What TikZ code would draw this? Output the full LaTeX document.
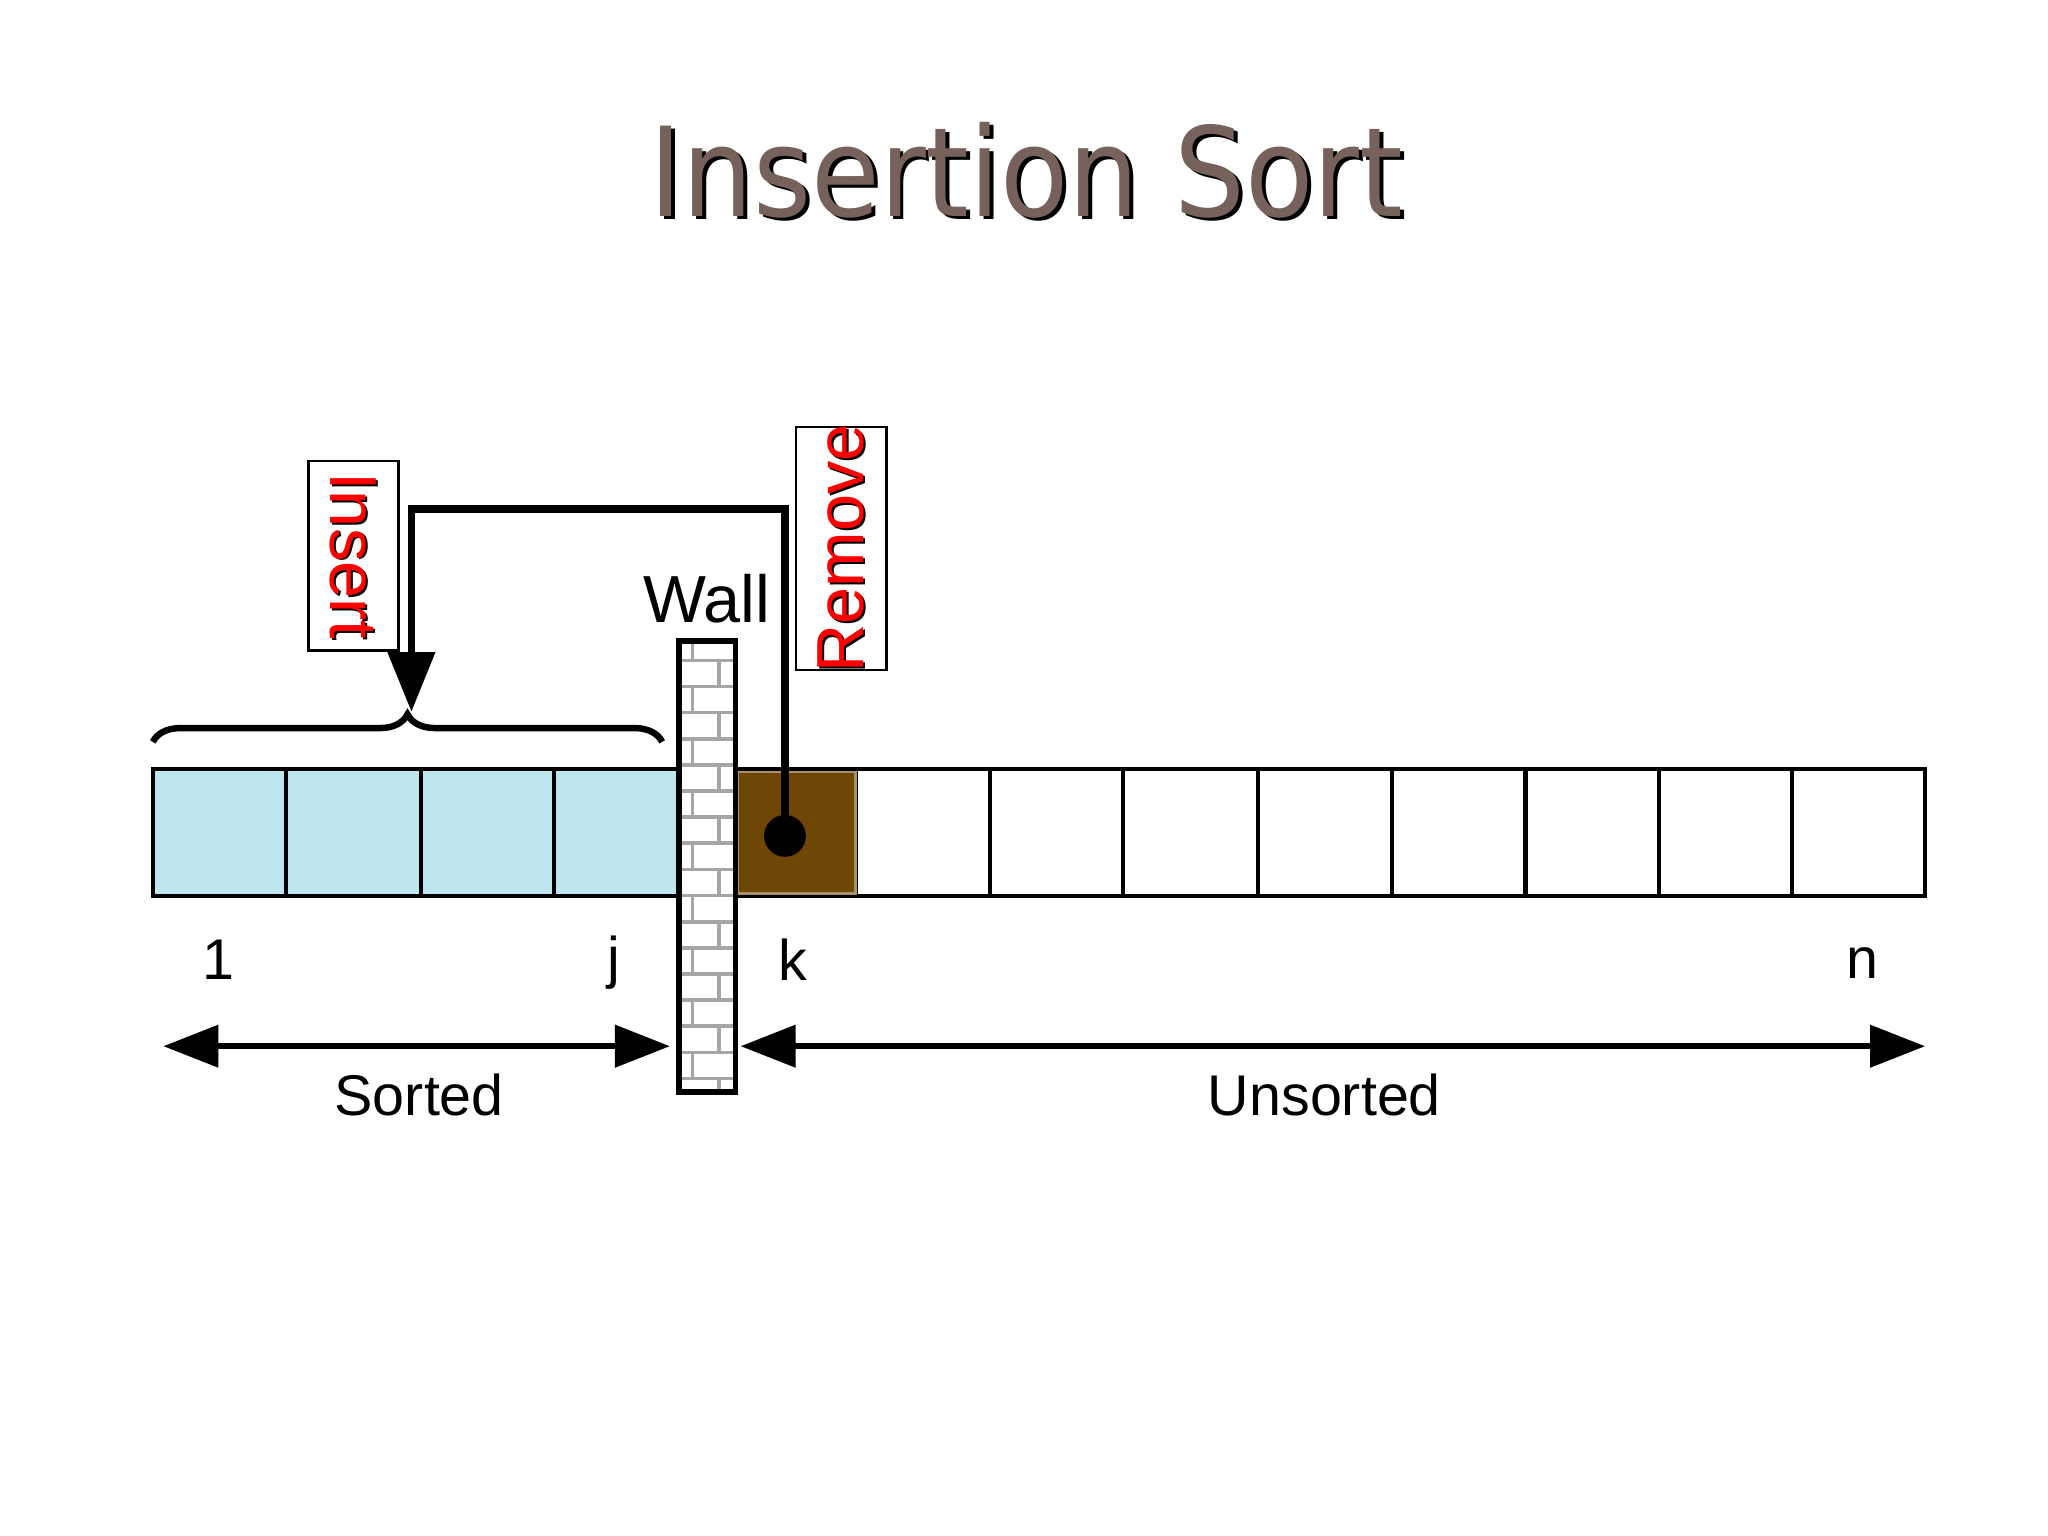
\documentclass[tikz,border=0pt]{standalone}
\usepackage{fontspec}
\setmainfont{Liberation Sans}
\newfontfamily\titlefont{DejaVu Sans Condensed}
\usetikzlibrary{patterns,decorations.pathreplacing,arrows.meta}
\definecolor{sortblue}{RGB}{190,230,238}
\definecolor{brownc}{RGB}{110,70,5}
\definecolor{titlec}{RGB}{118,98,90}
\begin{document}
\begin{tikzpicture}[x=0.01cm,y=-0.01cm,
  cell/.style={draw,line width=0.9pt},
  lbl/.style={font=\fontsize{12.5}{14}\selectfont},
  rbox/.style={draw,line width=0.6pt,fill=white,minimum width=0.69cm,inner sep=0pt},
  conn/.style={line width=1.7pt},
  bigarrow/.style={line width=1.4pt,{Triangle[length=12pt,width=9pt]}-{Triangle[length=12pt,width=9pt]}}]
\useasboundingbox (0,0) rectangle (1568,1176);
% title
\node[font=\titlefont\fontsize{27}{30}\selectfont,text=black] at (789,133) {Insertion Sort};
\node (title)[font=\titlefont\fontsize{27}{30}\selectfont,text=titlec] at (786,130) {Insertion Sort};
% sorted cells
\foreach \a/\b [count=\i] in {117/219,219/322,322/424,424/520}
  \draw[cell,fill=sortblue] (\a,589) rectangle (\b,686);
% unsorted cells
\draw[cell] (563,589) rectangle (1474,686);
\foreach \x in {655,758,860,963,1066,1168,1270,1372} \draw[cell] (\x,589) -- (\x,686);
\node (kcell)[fill=brownc,draw=brownc!60!white,line width=0.5pt,minimum width=0.9cm,minimum height=0.93cm,inner sep=0pt] at (610,637.5) {};
% wall
\fill[white] (520,491) rectangle (563,836);
\fill[pattern=bricks,pattern color=gray!70] (520,491) rectangle (563,836);
\node (wall)[draw,line width=1.2pt,minimum width=0.43cm,minimum height=3.45cm,inner sep=0pt] at (541.5,663.5) {};
\node (walllbl)[font=\fontsize{14.5}{16}\selectfont] at (541,458) {Wall};
% indices
\node (i1)[lbl] at (167,735) {1};
\node (ij)[lbl] at (470,737) {j};
\node (ik)[lbl] at (607,735) {k};
\node (in)[lbl] at (1426,737) {n};
% range arrows
\coordinate (s1) at (125,801); \coordinate (s2) at (513,801);
\coordinate (u1) at (567,801); \coordinate (u2) at (1474,801);
\draw[bigarrow] (s1) -- (s2);
\draw[bigarrow] (u1) -- (u2);
\node (sorted)[lbl] at (321,838) {Sorted};
\node (unsorted)[lbl] at (1014,838) {Unsorted};
% brace
\draw[line width=1.4pt,decorate,decoration={brace,amplitude=6pt}] (117,568) -- (507,568);
% dot and connector
\node (dot)[circle,fill=black,minimum size=0.32cm,inner sep=0pt] at (601,640) {};
\coordinate (c1) at (601,390); \coordinate (c2) at (315,390); \coordinate (tip) at (315,545);
\draw[conn,-{Triangle[length=13pt,width=10pt]}] (dot.center) -- (c1) -- (c2) -- (tip);
% labels boxes
\node (insert)[rbox,minimum height=1.45cm] at (270.5,425.5) {};
\node[rotate=-90,text=black,font=\fontsize{14.5}{16}\selectfont] at (272,427) {Insert};
\node[rotate=-90,text=red,font=\fontsize{14.5}{16}\selectfont] at (270.5,425.5) {Insert};
\node (remove)[rbox,minimum height=1.86cm] at (644,420) {};
\node[rotate=90,text=black,font=\fontsize{14.5}{16}\selectfont] at (645.5,421.5) {Remove};
\node[rotate=90,text=red,font=\fontsize{14.5}{16}\selectfont] at (644,420) {Remove};
\end{tikzpicture}
\end{document}
